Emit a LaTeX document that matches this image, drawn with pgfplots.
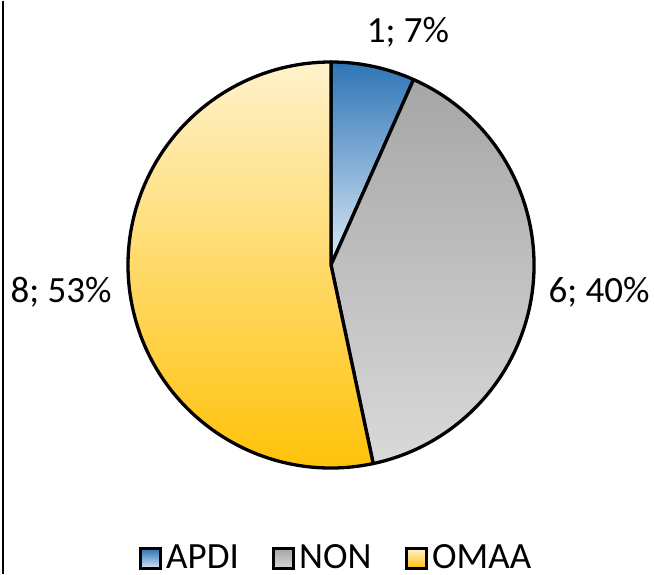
\documentclass[border=0pt]{standalone}
\usepackage{pgfplots}
\pgfplotsset{compat=1.18}
\usepackage{fontspec}
\setmainfont{Carlito}

\definecolor{apdiTop}{RGB}{46,117,182}
\definecolor{apdiBot}{RGB}{220,233,247}
\definecolor{nonTop}{RGB}{166,166,166}
\definecolor{nonBot}{RGB}{217,217,217}
\definecolor{omaTop}{RGB}{255,242,204}
\definecolor{omaBot}{RGB}{255,192,0}

\newcommand\lblfont{\fontsize{37}{40}\selectfont}

\begin{document}
\begin{tikzpicture}
\begin{axis}[
    width=654pt, height=573pt, scale only axis,
    xmin=0, xmax=654, ymin=0, ymax=573,
    hide axis, clip=false,
  ]
  \addplot[draw=none] coordinates {(0,0) (654,573)};
  \pgfplotsextra{
    \path (axis cs:0,0) rectangle (axis cs:654,573);
    % frame line on the left
    \draw[line width=2pt] (axis cs:3,0) -- (axis cs:3,573);
    % pie: values 1, 6, 8 (total 15), clockwise from 12 o'clock
    \def\tot{15}
    \def\cur{90}
    \foreach \v/\ct/\cb in {1/apdiTop/apdiBot, 6/nonTop/nonBot, 8/omaTop/omaBot}{
      \pgfmathsetmacro\a{\cur}
      \pgfmathsetmacro\b{\cur-360*\v/\tot}
      \shade[top color=\ct, bottom color=\cb]
        (axis cs:331,309) -- ++(\a:203pt) arc[start angle=\a, end angle=\b, radius=203pt] -- cycle;
      \draw[line width=3.3pt, line join=round]
        (axis cs:331,309) -- ++(\a:203pt) arc[start angle=\a, end angle=\b, radius=203pt] -- cycle;
      \global\let\cur\b
    }
    % data labels
    \node[anchor=base, font=\lblfont, inner sep=0pt] at (axis cs:408,531) {1; 7\%};
    \node[anchor=base, font=\lblfont, inner sep=0pt] at (axis cs:599,271) {6; 40\%};
    \node[anchor=base, font=\lblfont, inner sep=0pt] at (axis cs:61,271) {8; 53\%};
    % legend
    \foreach \x/\ct/\cb/\t in {140/apdiTop/apdiBot/APDI, 273/nonTop/nonBot/NON, 406/omaTop/omaBot/OMAA}{
      \shade[top color=\ct, bottom color=\cb] (axis cs:\x,5) rectangle (axis cs:\x+20,25);
      \draw[line width=3pt] (axis cs:\x,5) rectangle (axis cs:\x+20,25);
      \node[anchor=base west, font=\lblfont, inner sep=0pt] at (axis cs:\x+26,5) {\t};
    }
  }
\end{axis}
\end{tikzpicture}
\end{document}
